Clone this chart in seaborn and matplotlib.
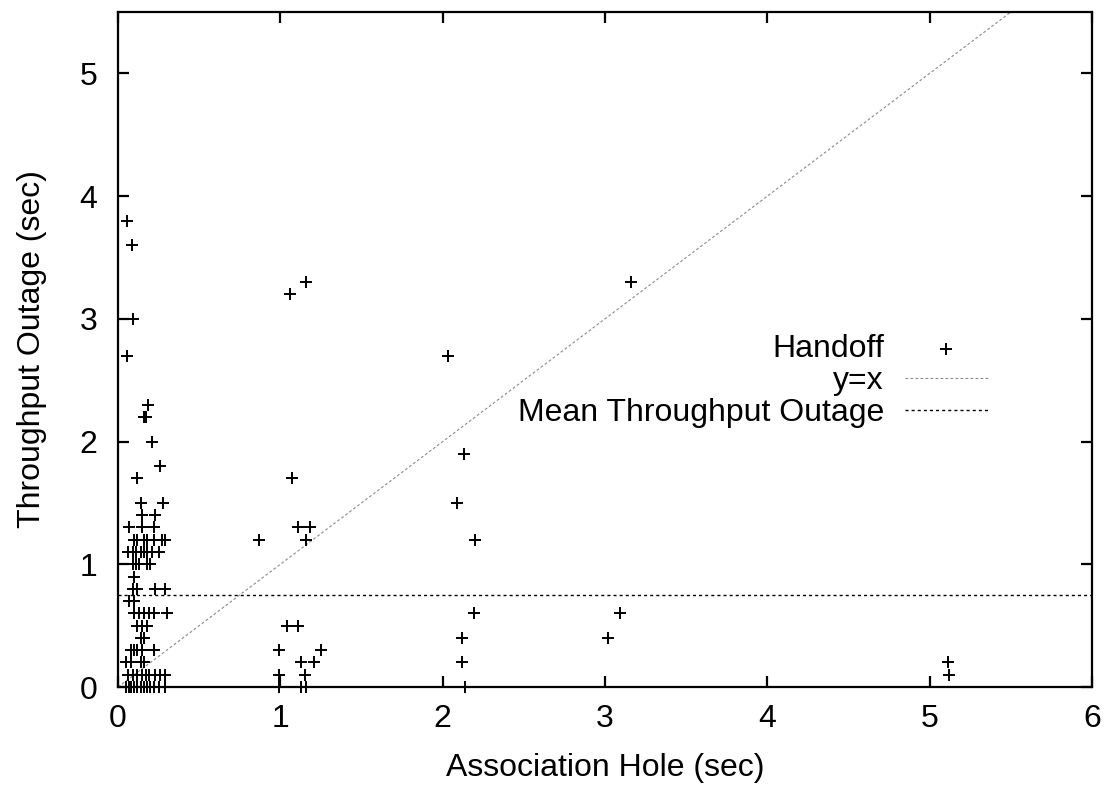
import numpy as np
import pandas as pd
import matplotlib
matplotlib.use("Agg")
import matplotlib.pyplot as plt
import seaborn as sns

# Handoff measurements: association hole vs. throughput outage (seconds)
hole_sec = [
    # short association holes (< 0.3 s)
    0.055, 0.085, 0.095, 0.055, 0.185, 0.16, 0.17, 0.21, 0.26, 0.12,
    0.14, 0.28,
    0.15, 0.23,
    0.07, 0.15, 0.22,
    0.10, 0.12, 0.16, 0.18, 0.22, 0.27, 0.29,
    0.06, 0.09, 0.11, 0.14, 0.16, 0.18, 0.21, 0.25,
    0.09, 0.11, 0.13, 0.18, 0.20,
    0.10,
    0.09, 0.12, 0.23, 0.29,
    0.07, 0.10,
    0.10, 0.13, 0.16, 0.19, 0.22, 0.30,
    0.12, 0.15, 0.18,
    0.14, 0.16,
    0.08, 0.10, 0.12, 0.15, 0.22,
    0.05, 0.08, 0.14, 0.16,
    0.06, 0.09, 0.12, 0.15, 0.17, 0.19, 0.23, 0.26, 0.29,
    0.05, 0.07, 0.08, 0.10, 0.12, 0.14, 0.16, 0.18, 0.20, 0.22, 0.25, 0.29,
    # around 1 s
    0.87, 1.06, 1.16, 1.07, 1.11, 1.18, 1.16, 1.04, 1.11, 0.99,
    1.25, 1.13, 1.21, 0.99, 1.15, 0.99, 1.13, 1.16,
    # around 2 s
    2.03, 2.13, 2.09, 2.20, 2.19, 2.12, 2.12, 2.14,
    # around 3 s
    3.16, 3.09, 3.02,
    # around 5 s
    5.11, 5.12,
]
outage_sec = [
    3.8, 3.6, 3.0, 2.7, 2.3, 2.2, 2.2, 2.0, 1.8, 1.7,
    1.5, 1.5,
    1.4, 1.4,
    1.3, 1.3, 1.3,
    1.2, 1.2, 1.2, 1.2, 1.2, 1.2, 1.2,
    1.1, 1.1, 1.1, 1.1, 1.1, 1.1, 1.1, 1.1,
    1.0, 1.0, 1.0, 1.0, 1.0,
    0.9,
    0.8, 0.8, 0.8, 0.8,
    0.7, 0.7,
    0.6, 0.6, 0.6, 0.6, 0.6, 0.6,
    0.5, 0.5, 0.5,
    0.4, 0.4,
    0.3, 0.3, 0.3, 0.3, 0.3,
    0.2, 0.2, 0.2, 0.2,
    0.1, 0.1, 0.1, 0.1, 0.1, 0.1, 0.1, 0.1, 0.1,
    0.0, 0.0, 0.0, 0.0, 0.0, 0.0, 0.0, 0.0, 0.0, 0.0, 0.0, 0.0,
    1.2, 3.2, 3.3, 1.7, 1.3, 1.3, 1.2, 0.5, 0.5, 0.3,
    0.3, 0.2, 0.2, 0.1, 0.1, 0.0, 0.0, 0.0,
    2.7, 1.9, 1.5, 1.2, 0.6, 0.4, 0.2, 0.0,
    3.3, 0.6, 0.4,
    0.2, 0.1,
]
mean_outage = 0.75

x_ticks = [0, 1, 2, 3, 4, 5, 6]
y_ticks = [0, 1, 2, 3, 4, 5]
x_label = "Association Hole (sec)"
y_label = "Throughput Outage (sec)"
legend_labels = ["Handoff", "y=x", "Mean Throughput Outage"]

df = pd.DataFrame({"hole": hole_sec, "outage": outage_sec})

sns.set_theme(style="white")
plt.rcParams["font.family"] = ["Liberation Sans", "DejaVu Sans"]
plt.rcParams.update({
    "text.color": "black",
    "axes.labelcolor": "black",
    "xtick.color": "black",
    "ytick.color": "black",
})

fig = plt.figure(figsize=(11.09, 7.85), dpi=100)
ax = fig.add_axes([0.1064, 0.1248, 0.8783, 0.8599])

sns.scatterplot(data=df, x="hole", y="outage", ax=ax, marker="+", s=80,
                color="black", linewidth=1.4, clip_on=False, zorder=3,
                label=legend_labels[0])

diag = np.array([0.0, 6.0])
sns.lineplot(x=diag, y=diag, ax=ax, color="#8a8a8a", linewidth=0.8,
             linestyle=(0, (2.5, 2.0)), label=legend_labels[1])
ax.axhline(mean_outage, color="black", linewidth=1.0,
           linestyle=(0, (2.2, 2.2)), label=legend_labels[2])

ax.set_xlim(0, 6)
ax.set_ylim(0, 5.5)
ax.set_xticks(x_ticks)
ax.set_yticks(y_ticks)
ax.set_xlabel(x_label, fontsize=23, labelpad=14)
ax.set_ylabel(y_label, fontsize=23, labelpad=23)
ax.tick_params(axis="both", which="major", direction="in", length=8,
               width=1.6, labelsize=23, top=True, right=True,
               bottom=True, left=True)
ax.tick_params(axis="x", pad=12)
ax.tick_params(axis="y", pad=15)
for sp in ax.spines.values():
    sp.set_linewidth(1.6)
    sp.set_color("black")

ax.legend(loc="upper right", bbox_to_anchor=(0.893, 0.523), frameon=False,
          markerfirst=False, fontsize=23, handlelength=2.6,
          handletextpad=0.65, labelspacing=0.07, borderpad=0,
          borderaxespad=0)

fig.savefig("out.png", dpi=100)
